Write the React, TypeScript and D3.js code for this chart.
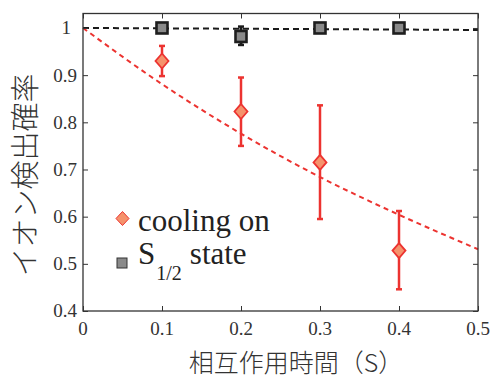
import React, { useEffect, useRef } from "react";
import * as d3 from "d3";

// measured data
const times = [0.1, 0.2, 0.3, 0.4];
const coolingMean = [0.93, 0.823, 0.715, 0.528];
const coolingLow = [0.898, 0.75, 0.595, 0.446];
const coolingHigh = [0.962, 0.895, 0.836, 0.612];
const stateMean = [1.0, 0.982, 1.0, 1.0];
const stateLow = [1.0, 0.964, 1.0, 1.0];
const stateHigh = [1.0, 1.003, 1.0, 1.0];

// fitted curves
const fitTimes = [0, 0.1, 0.2, 0.3, 0.4, 0.5];
const coolingFit = [1.0, 0.881, 0.776, 0.684, 0.604, 0.531];
const stateFit = [1.0, 0.9992, 0.9984, 0.9975, 0.9967, 0.9958];

const xTicks = [0, 0.1, 0.2, 0.3, 0.4, 0.5];
const yTicks = [0.4, 0.5, 0.6, 0.7, 0.8, 0.9, 1];

function App() {
  const svgRef = useRef<SVGSVGElement>(null);
  const width = 496;
  const height = 381;

  useEffect(() => {
    const svg = d3.select(svgRef.current);
    svg.selectAll("*").remove();

    const margin = { top: 13.5, right: 18, bottom: 70, left: 83 };
    const red = "#ec3330";
    const salmon = "#f5926c";
    const axisColor = "#333";
    const serif = "'Liberation Serif', 'Times New Roman', serif";

    const x = d3
      .scaleLinear()
      .domain([0, 0.5])
      .range([margin.left, width - margin.right]);
    const y = d3
      .scaleLinear()
      .domain([0.4, 1.0307])
      .range([height - margin.bottom, margin.top]);

    const x0 = x.range()[0];
    const x1 = x.range()[1];
    const y0 = y.range()[0];
    const y1 = y.range()[1];

    // fit lines
    const line = d3
      .line<number>()
      .x((d, i) => x(fitTimes[i]))
      .y((d) => y(d))
      .curve(d3.curveMonotoneX);

    svg
      .append("path")
      .attr("d", line(coolingFit))
      .attr("fill", "none")
      .attr("stroke", red)
      .attr("stroke-width", 2)
      .attr("stroke-dasharray", "5,4");

    svg
      .append("path")
      .attr("d", line(stateFit))
      .attr("fill", "none")
      .attr("stroke", "#1a1a1a")
      .attr("stroke-width", 2)
      .attr("stroke-dasharray", "6,4");

    // frame and ticks
    svg
      .append("rect")
      .attr("x", x0)
      .attr("y", y1)
      .attr("width", x1 - x0)
      .attr("height", y0 - y1)
      .attr("fill", "none")
      .attr("stroke", axisColor)
      .attr("stroke-width", 1.3);

    svg
      .append("g")
      .attr("transform", `translate(0,${y0})`)
      .call(d3.axisBottom(x).tickValues(xTicks).tickSize(-5).tickFormat(() => ""))
      .call((g) => g.select(".domain").remove())
      .selectAll("line")
      .attr("stroke", axisColor);
    svg
      .append("g")
      .attr("transform", `translate(0,${y1})`)
      .call(d3.axisTop(x).tickValues(xTicks).tickSize(-5).tickFormat(() => ""))
      .call((g) => g.select(".domain").remove())
      .selectAll("line")
      .attr("stroke", axisColor);
    svg
      .append("g")
      .attr("transform", `translate(${x0},0)`)
      .call(d3.axisLeft(y).tickValues(yTicks).tickSize(-5).tickFormat(() => ""))
      .call((g) => g.select(".domain").remove())
      .selectAll("line")
      .attr("stroke", axisColor);
    svg
      .append("g")
      .attr("transform", `translate(${x1},0)`)
      .call(d3.axisRight(y).tickValues(yTicks).tickSize(-5).tickFormat(() => ""))
      .call((g) => g.select(".domain").remove())
      .selectAll("line")
      .attr("stroke", axisColor);

    // tick labels
    svg
      .selectAll("text.xt")
      .data(xTicks)
      .join("text")
      .attr("class", "xt")
      .attr("x", (d) => x(d))
      .attr("y", y0 + 24)
      .attr("text-anchor", "middle")
      .attr("font-family", serif)
      .attr("font-size", 19)
      .attr("fill", axisColor)
      .text((d) => (d === 0 ? "0" : d.toFixed(1)));

    svg
      .selectAll("text.yt")
      .data(yTicks)
      .join("text")
      .attr("class", "yt")
      .attr("x", (d) => (d === 1 ? x0 - 12 : x0 - 6))
      .attr("y", (d) => y(d))
      .attr("dy", "0.34em")
      .attr("text-anchor", "end")
      .attr("font-family", serif)
      .attr("font-size", 19)
      .attr("fill", axisColor)
      .text((d) => (d === 1 ? "1" : d.toFixed(1)));

    // error bars
    const drawErr = (
      lo: number[],
      hi: number[],
      color: string,
      w: number
    ) => {
      times.forEach((t, i) => {
        if (hi[i] - lo[i] < 0.001) return;
        const g = svg.append("g");
        g.append("line")
          .attr("x1", x(t))
          .attr("x2", x(t))
          .attr("y1", y(lo[i]))
          .attr("y2", y(hi[i]))
          .attr("stroke", color)
          .attr("stroke-width", w);
        [lo[i], hi[i]].forEach((v) => {
          g.append("line")
            .attr("x1", x(t) - 3)
            .attr("x2", x(t) + 3)
            .attr("y1", y(v))
            .attr("y2", y(v))
            .attr("stroke", color)
            .attr("stroke-width", 2.5);
        });
      });
    };

    drawErr(coolingLow, coolingHigh, red, 2.5);
    drawErr(stateLow, stateHigh, "#1a1a1a", 3);

    const diamond = (cx: number, cy: number, hw: number, hh: number) =>
      `M${cx},${cy - hh}L${cx + hw},${cy}L${cx},${cy + hh}L${cx - hw},${cy}Z`;

    // state markers
    svg
      .selectAll("rect.st")
      .data(times)
      .join("rect")
      .attr("class", "st")
      .attr("x", (d) => x(d) - 5.5)
      .attr("y", (d, i) => y(stateMean[i]) - 5.5)
      .attr("width", 11)
      .attr("height", 11)
      .attr("fill", "#8a8a8a")
      .attr("stroke", "#1e1e1e")
      .attr("stroke-width", 2.6);

    // cooling markers
    svg
      .selectAll("path.cl")
      .data(times)
      .join("path")
      .attr("class", "cl")
      .attr("d", (d, i) => diamond(x(d), y(coolingMean[i]), 6.5, 7.5))
      .attr("fill", salmon)
      .attr("stroke", red)
      .attr("stroke-width", 1.8);

    // legend
    const legend = svg.append("g");
    legend
      .append("path")
      .attr("d", diamond(122.5, 218.5, 6.5, 7))
      .attr("fill", salmon)
      .attr("stroke", red)
      .attr("stroke-width", 1);
    legend
      .append("text")
      .attr("x", 138)
      .attr("y", 231)
      .attr("font-family", serif)
      .attr("font-size", 31)
      .attr("fill", "#222")
      .text("cooling on");
    legend
      .append("rect")
      .attr("x", 117)
      .attr("y", 258)
      .attr("width", 10)
      .attr("height", 10)
      .attr("fill", "#8a8a8a")
      .attr("stroke", "#333")
      .attr("stroke-width", 1);
    const st = legend
      .append("text")
      .attr("x", 138)
      .attr("y", 264)
      .attr("font-family", serif)
      .attr("font-size", 31)
      .attr("fill", "#222");
    st.append("tspan").text("S");
    st.append("tspan")
      .attr("font-size", 20)
      .attr("dy", 16)
      .attr("dx", 1)
      .text("1/2");
    st.append("tspan").attr("dy", -16).attr("dx", 8).text("state");

    // axis titles
    svg
      .append("text")
      .attr("x", 296)
      .attr("y", 372)
      .attr("text-anchor", "middle")
      .attr("font-family", "'Noto Sans CJK JP', sans-serif")
      .attr("font-weight", 300)
      .attr("font-size", 25)
      .attr("fill", "#333")
      .text("相互作用時間（S）");

    svg
      .append("text")
      .attr("transform", `translate(36,175) rotate(-90)`)
      .attr("text-anchor", "middle")
      .attr("font-family", "'Noto Sans CJK JP', sans-serif")
      .attr("font-weight", 300)
      .attr("font-size", 29)
      .attr("fill", "#333")
      .text("イオン検出確率");
  }, []);

  return (
    <svg
      ref={svgRef}
      width={width}
      height={height}
      style={{ position: "absolute", left: 0, top: 0, background: "#fff" }}
    ></svg>
  );
}

export default App;
